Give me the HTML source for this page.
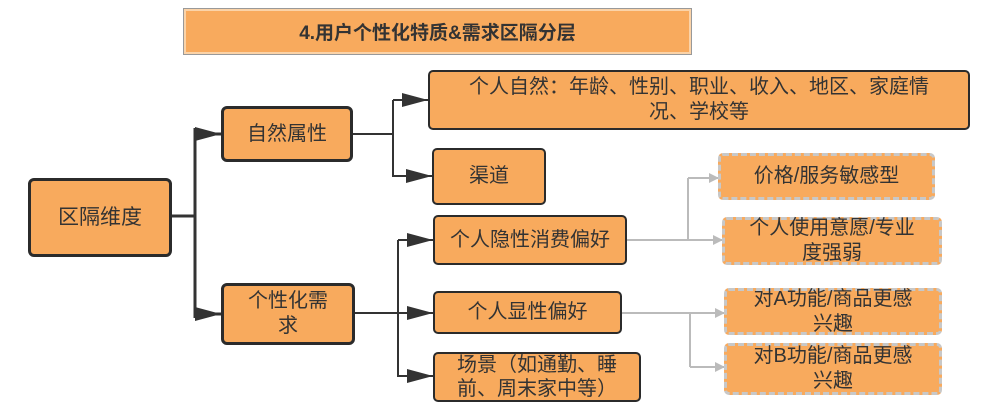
<!DOCTYPE html>
<html><head><meta charset="utf-8"><style>
body{margin:0;width:986px;height:403px;background:#fff;position:relative;overflow:hidden;font-family:"Liberation Sans","Noto Sans CJK SC",sans-serif;color:#333}
.b{position:absolute;background:#f8aa5d;border:3px solid #2b2b2b;border-radius:6px;box-sizing:border-box;display:flex;align-items:center;justify-content:center;text-align:center;font-size:20px;line-height:25px;white-space:nowrap}
.t{border-width:2px;border-radius:5px;font-size:20px}
.d{border:3px dashed #c8c8c8;border-radius:5px;font-size:20px;line-height:25px}
</style></head><body>
<div style="position:absolute;left:183px;top:8px;width:509px;height:47px;box-sizing:border-box;background:#f8aa5d;border:1px solid #999;box-shadow:inset 0 0 0 2px #fbd3a8;display:flex;align-items:center;justify-content:center;font-weight:bold;font-size:19px">4.用户个性化特质&amp;需求区隔分层</div>
<svg style="position:absolute;left:0;top:0" width="986" height="403">
<defs>
<marker id="g" markerWidth="10" markerHeight="10" refX="9" refY="5" orient="auto" markerUnits="userSpaceOnUse"><path d="M0,0 L10,5 L0,10z" fill="#bbb"/></marker>
<marker id="k" markerWidth="26" markerHeight="14" refX="26" refY="7" orient="auto" markerUnits="userSpaceOnUse"><path d="M0,0 L26,7 L0,14z" fill="#333"/></marker></defs>
<g fill="none" stroke="#333">
<path d="M172 216 H195 M195 128 V318" stroke-width="3"/>
<path d="M195 134 H221" stroke-width="3" marker-end="url(#k)"/>
<path d="M195 314 H221" stroke-width="3" marker-end="url(#k)"/>
<path d="M353 134 H393 M393 100 V177" stroke-width="2"/>
<path d="M393 100 H428" stroke-width="2" marker-end="url(#k)"/>
<path d="M393 176 H432" stroke-width="2" marker-end="url(#k)"/>
<path d="M355 313 H398 M398 240 V377" stroke-width="2"/>
<path d="M398 240 H433" stroke-width="2" marker-end="url(#k)"/>
<path d="M398 313 H433" stroke-width="2" marker-end="url(#k)"/>
<path d="M398 376 H433" stroke-width="2" marker-end="url(#k)"/>
</g>
<g fill="none" stroke="#bbb" stroke-width="2">
<path d="M627 240 H688 M688 178 V240"/>
<path d="M688 178 H718" marker-end="url(#g)"/>
<path d="M688 240 H722" marker-end="url(#g)"/>
<path d="M622 313 H690 M690 313 V367"/>
<path d="M690 313 H724" marker-end="url(#g)"/>
<path d="M690 367 H724" marker-end="url(#g)"/>
</g></svg>
<div class="b" style="left:28px;top:178px;width:144px;height:79px;font-size:21px">区隔维度</div>
<div class="b" style="left:221px;top:106px;width:132px;height:56px">自然属性</div>
<div class="b" style="left:221px;top:283px;width:134px;height:62px">个性化需<br>求</div>
<div class="b t" style="left:428px;top:70px;width:542px;height:60px">个人自然：年龄、性别、职业、收入、地区、家庭情<br>况、学校等</div>
<div class="b t" style="left:432px;top:148px;width:114px;height:57px">渠道</div>
<div class="b t" style="left:433px;top:215px;width:194px;height:50px">个人隐性消费偏好</div>
<div class="b t" style="left:433px;top:291px;width:189px;height:43px">个人显性偏好</div>
<div class="b t" style="left:433px;top:352px;width:208px;height:50px;text-align:left;justify-content:flex-start;padding-left:22px;line-height:24px">场景（如通勤、睡<br>前、周末家中等）</div>
<div class="b d" style="left:718px;top:153px;width:217px;height:47px">价格/服务敏感型</div>
<div class="b d" style="left:722px;top:217px;width:220px;height:48px">个人使用意愿/专业<br>度强弱</div>
<div class="b d" style="left:724px;top:288px;width:218px;height:47px">对A功能/商品更感<br>兴趣</div>
<div class="b d" style="left:724px;top:343px;width:218px;height:52px">对B功能/商品更感<br>兴趣</div>
</body></html>
